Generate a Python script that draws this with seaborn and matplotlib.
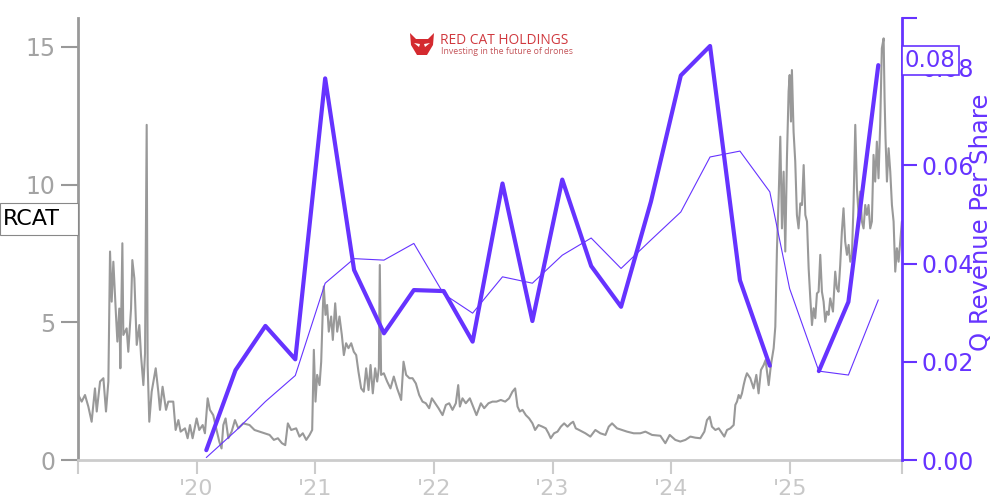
import numpy as np
import pandas as pd
import matplotlib
matplotlib.use("Agg")
import matplotlib.pyplot as plt
import matplotlib.transforms as mtransforms
from matplotlib.patches import Polygon, Rectangle
import seaborn as sns

# ---------------- data ----------------
price_year = [
    2019.003, 2019.031, 2019.059, 2019.087, 2019.115, 2019.143, 2019.158, 2019.186, 2019.214, 2019.236,
    2019.256, 2019.270, 2019.284, 2019.298, 2019.320, 2019.332, 2019.348, 2019.357, 2019.374, 2019.382,
    2019.410, 2019.424, 2019.447, 2019.458, 2019.475, 2019.495, 2019.517, 2019.531, 2019.551, 2019.565,
    2019.579, 2019.587, 2019.601, 2019.621, 2019.655, 2019.677, 2019.691, 2019.713, 2019.742, 2019.761,
    2019.803, 2019.823, 2019.846, 2019.865, 2019.902, 2019.924, 2019.944, 2019.966, 2020.000, 2020.022,
    2020.051, 2020.070, 2020.093, 2020.112, 2020.140, 2020.168, 2020.191, 2020.210, 2020.225, 2020.244,
    2020.267, 2020.295, 2020.323, 2020.351, 2020.393,
    2020.446, 2020.488, 2020.530, 2020.572, 2020.615, 2020.651, 2020.685, 2020.719, 2020.747, 2020.769,
    2020.797, 2020.839, 2020.867, 2020.895, 2020.924, 2020.952, 2020.974, 2020.988, 2021.002, 2021.016,
    2021.036, 2021.050, 2021.064, 2021.072, 2021.086, 2021.100, 2021.114, 2021.134, 2021.148, 2021.168,
    2021.185, 2021.204, 2021.224, 2021.241, 2021.260, 2021.280, 2021.303, 2021.325, 2021.345, 2021.364,
    2021.387, 2021.409, 2021.429, 2021.449, 2021.466, 2021.485, 2021.505, 2021.522, 2021.536, 2021.544,
    2021.555, 2021.578, 2021.606, 2021.634, 2021.662, 2021.690, 2021.710, 2021.724, 2021.744, 2021.766,
    2021.794,
    2021.820, 2021.848, 2021.876, 2021.904, 2021.932, 2021.960, 2021.983, 2022.011, 2022.039, 2022.073,
    2022.101, 2022.129, 2022.157, 2022.185, 2022.205, 2022.219, 2022.241, 2022.269, 2022.303, 2022.331,
    2022.359, 2022.396, 2022.424, 2022.460, 2022.494, 2022.528, 2022.564, 2022.601, 2022.634, 2022.662,
    2022.685, 2022.705, 2022.724, 2022.747, 2022.775, 2022.803, 2022.831, 2022.853, 2022.882, 2022.915,
    2022.943, 2022.966, 2022.985, 2023.013, 2023.042, 2023.070, 2023.098, 2023.126, 2023.154, 2023.174,
    2023.196, 2023.224,
    2023.277, 2023.319, 2023.361, 2023.403, 2023.446, 2023.474, 2023.502, 2023.544, 2023.586, 2023.628,
    2023.684, 2023.740, 2023.783, 2023.839, 2023.909, 2023.951, 2023.988, 2024.035, 2024.077, 2024.120,
    2024.162, 2024.204, 2024.246, 2024.280, 2024.302, 2024.325, 2024.344, 2024.373, 2024.401, 2024.429,
    2024.448, 2024.471, 2024.499, 2024.527, 2024.541, 2024.555, 2024.569, 2024.583, 2024.597, 2024.611,
    2024.625,
    2024.639, 2024.667, 2024.695, 2024.718, 2024.737, 2024.757, 2024.780, 2024.796, 2024.822, 2024.841,
    2024.864, 2024.878, 2024.892, 2024.906, 2024.920, 2024.934, 2024.948, 2024.962, 2024.976, 2024.990,
    2024.999, 2025.010, 2025.018, 2025.032, 2025.046, 2025.060, 2025.074, 2025.089, 2025.103, 2025.117,
    2025.131, 2025.145, 2025.159, 2025.173, 2025.187, 2025.201, 2025.215, 2025.229, 2025.243, 2025.257,
    2025.271, 2025.285, 2025.299, 2025.313, 2025.327, 2025.341, 2025.364, 2025.383, 2025.397, 2025.411,
    2025.425, 2025.439, 2025.453, 2025.467, 2025.482, 2025.496, 2025.510, 2025.524, 2025.538, 2025.552,
    2025.566, 2025.580, 2025.594, 2025.608, 2025.622, 2025.636, 2025.650, 2025.664, 2025.678, 2025.692,
    2025.706, 2025.720, 2025.734, 2025.748, 2025.762, 2025.776, 2025.791, 2025.799, 2025.807, 2025.819,
    2025.833, 2025.847, 2025.861, 2025.875, 2025.889, 2025.903, 2025.917, 2025.931, 2025.945,
]
price = [
    2.36, 2.12, 2.36, 1.94, 1.39, 2.60, 1.76, 2.85, 2.97, 1.76,
    2.85, 7.57, 5.75, 7.20, 5.27, 4.30, 5.50, 3.33, 7.87, 4.54,
    4.78, 3.93, 5.50, 7.26, 6.60, 4.18, 4.90, 3.81, 2.72, 3.87,
    12.17, 3.45, 1.39, 2.48, 3.33, 2.48, 1.82, 2.66, 1.82, 2.12,
    2.12, 1.09, 1.45, 1.03, 1.15, 0.79, 1.27, 0.79, 1.51, 1.09,
    1.27, 0.97, 2.24, 1.82, 1.63, 1.09, 0.67, 0.42, 1.27, 1.51,
    0.79, 1.03, 1.45, 1.15, 1.33,
    1.27, 1.09, 1.03, 0.97, 0.91, 0.73, 0.79, 0.61, 0.54, 1.33,
    1.09, 1.15, 0.85, 0.97, 0.73, 0.91, 1.09, 4.00, 2.12, 3.09,
    2.72, 3.57, 5.51, 6.30, 5.27, 5.63, 4.66, 5.21, 4.36, 5.69,
    4.66, 5.21, 4.54, 3.81, 4.24, 4.06, 4.24, 3.93, 3.81, 3.21,
    2.60, 2.48, 3.33, 2.54, 3.45, 2.42, 3.33, 2.85, 3.33, 7.08,
    3.09, 3.15, 2.85, 2.60, 3.03, 2.60, 2.36, 2.18, 3.57, 3.09,
    2.97,
    2.97, 2.78, 2.36, 2.12, 2.06, 1.88, 2.24, 2.06, 1.88, 1.63,
    2.00, 2.06, 1.82, 2.06, 2.72, 1.94, 2.24, 2.06, 2.24, 1.94,
    1.63, 2.06, 1.88, 2.06, 2.12, 2.12, 2.18, 2.12, 2.24, 2.48,
    2.60, 1.94, 1.76, 1.82, 1.63, 1.51, 1.33, 1.09, 1.27, 1.21,
    1.15, 0.97, 0.79, 0.97, 1.03, 1.21, 1.33, 1.21, 1.33, 1.39,
    1.15, 1.09,
    0.97, 0.85, 1.09, 0.97, 0.91, 1.21, 1.33, 1.15, 1.09, 1.03,
    0.97, 0.97, 1.03, 0.91, 0.88, 0.61, 0.91, 0.73, 0.67, 0.73,
    0.85, 0.81, 0.79, 1.03, 1.45, 1.57, 1.21, 1.09, 1.15, 0.97,
    0.85, 1.09, 1.15, 1.27, 2.00, 2.12, 2.36, 2.24, 2.42, 2.72,
    2.97,
    3.15, 2.97, 2.60, 3.09, 2.42, 3.27, 3.45, 3.63, 2.72, 3.45,
    4.06, 4.84, 7.69, 9.50, 11.74, 8.41, 10.47, 7.57, 10.96, 13.38,
    13.98, 12.29, 14.16, 11.92, 10.84, 8.90, 8.41, 9.32, 9.26, 10.71,
    8.90, 8.66, 6.96, 5.87, 4.90, 5.51, 5.15, 6.05, 6.11, 7.45,
    6.11, 5.75, 5.02, 5.39, 5.27, 5.87, 5.39, 6.84, 6.23, 6.11,
    7.08, 8.29, 9.14, 7.93, 7.45, 7.81, 7.20, 7.45, 9.38, 12.17,
    9.87, 8.90, 9.75, 8.66, 8.41, 9.26, 8.90, 9.26, 8.41, 8.66,
    11.08, 10.11, 11.56, 10.23, 12.17, 14.95, 15.31, 13.14, 11.68, 10.11,
    11.32, 10.47, 9.26, 8.66, 6.84, 7.69, 7.20, 7.93, 8.66,
]

q_dates = [
    "2020-01-31", "2020-04-30", "2020-07-31", "2020-10-31",
    "2021-01-31", "2021-04-30", "2021-07-31", "2021-10-31",
    "2022-01-31", "2022-04-30", "2022-07-31", "2022-10-31",
    "2023-01-31", "2023-04-30", "2023-07-31", "2023-10-31",
    "2024-01-31", "2024-04-30", "2024-07-31", "2024-10-31",
    "2024-12-31", "2025-03-31", "2025-06-30", "2025-09-30",
]
q_rev_per_share = [
    0.0020, 0.0183, 0.0273, 0.0205,
    0.0777, 0.0387, 0.0258, 0.0346,
    0.0344, 0.0241, 0.0563, 0.0283,
    0.0571, 0.0395, 0.0312, 0.0526,
    0.0783, 0.0843, 0.0366, 0.0192,
    np.nan, 0.0181, 0.0322, 0.0804,
]
q_rev_smooth = [
    0.0005, 0.0059, 0.0119, 0.0172,
    0.0360, 0.0410, 0.0407, 0.0441,
    0.0338, 0.0299, 0.0373, 0.0360,
    0.0417, 0.0452, 0.0390, 0.0448,
    0.0505, 0.0617, 0.0629, 0.0546,
    0.0349, 0.0181, 0.0173, 0.0326,
]

year_ticks = [2019, 2020, 2021, 2022, 2023, 2024, 2025]
year_labels = ["", "'20", "'21", "'22", "'23", "'24", "'25"]
left_ticks = [0, 5, 10, 15]
right_ticks = [0.00, 0.02, 0.04, 0.06, 0.08]

ticker = "RCAT"
ticker_value = 8.75
last_value_label = "0.08"
last_value_pos = 0.0813

# ---------------- styling ----------------
PURPLE = "#6633ff"
GRAY = "#999999"
LIGHT = "#cccccc"

sns.set_theme(style="white")
plt.rcParams["font.family"] = ["DejaVu Sans"]

def to_dt(years):
    y = np.asarray(years, dtype=float)
    return pd.Timestamp("2019-01-01") + pd.to_timedelta((y - 2019.0) * 365.25, unit="D")

df_price = pd.DataFrame({"date": to_dt(price_year), "price": price})
df_q = pd.DataFrame({"date": pd.to_datetime(q_dates),
                     "rev": q_rev_per_share, "smooth": q_rev_smooth})
df_q["seg"] = df_q["rev"].isna().cumsum()
df_thick = df_q.dropna(subset=["rev"])

fig = plt.figure(figsize=(10, 5), dpi=100)
ax = fig.add_axes([0.078, 0.08, 0.824, 0.884])

sns.lineplot(data=df_price, x="date", y="price", ax=ax, color=GRAY, lw=1.5)
ax.set_ylim(0, 16.05)

ax2 = ax.twinx()
sns.lineplot(data=df_q, x="date", y="smooth", ax=ax2, color=PURPLE, lw=0.8)
sns.lineplot(data=df_thick, x="date", y="rev", units="seg", estimator=None,
             ax=ax2, color=PURPLE, lw=3)
ax2.set_ylim(0, 0.0900)

xmin = pd.Timestamp("2019-01-01")
xmax = pd.Timestamp("2025-12-12")
ax.set_xlim(xmin, xmax)
ax2.set_xlim(xmin, xmax)

ax.set_xticks([pd.Timestamp(f"{y}-01-01") for y in year_ticks])
ax.set_xticklabels(year_labels)
ax.set_xticks([xmax], minor=True)
ax.set_yticks(left_ticks)
ax.set_yticklabels([str(t) for t in left_ticks])
ax2.set_yticks(right_ticks)
ax2.set_yticklabels([f"{t:.2f}" for t in right_ticks])
ax2.set_yticks([0.09], minor=True)

ax.set_xlabel("")
ax.set_ylabel("")
ax2.set_xlabel("")
ax2.set_ylabel("Q Revenue Per Share", color=PURPLE, fontsize=17.5)
ax2.yaxis.set_label_coords(1.096, 0.538)
ax2.yaxis.label.set_va("center")
ax2.yaxis.label.set_ha("center")

ax.tick_params(axis="y", left=True, length=12, width=1.5, color=GRAY,
               labelcolor="#a3a3a3", labelsize=17, pad=4)
ax.tick_params(axis="x", which="both", bottom=True, length=10, width=1.5, color=LIGHT,
               labelcolor="#c8c8c8", labelsize=16, pad=4)
ax2.tick_params(axis="y", which="both", right=True, length=11, width=1.5, color=PURPLE,
                labelcolor=PURPLE, labelsize=17, pad=3)

for s in ["top", "right"]:
    ax.spines[s].set_visible(False)
ax.spines["left"].set_color(GRAY)
ax.spines["left"].set_linewidth(2)
ax.spines["bottom"].set_color(LIGHT)
ax.spines["bottom"].set_linewidth(2)
for s in ["top", "left", "bottom"]:
    ax2.spines[s].set_visible(False)
ax2.spines["right"].set_color(PURPLE)
ax2.spines["right"].set_linewidth(2)
ax.grid(False)
ax2.grid(False)

# ticker label box on the left axis
trans_l = mtransforms.blended_transform_factory(ax.transAxes, ax.transData)
ax.add_patch(Rectangle((-0.0947, 8.17), 0.0947, 1.165, transform=trans_l,
                       fc="white", ec="#888888", lw=0.8, clip_on=False, zorder=9))
ax.text(-0.0947 + 3 / 824, ticker_value, ticker, transform=trans_l, ha="left", va="center",
        fontsize=16, color="black", zorder=10, clip_on=False)

# last value box on the right axis
trans_r = mtransforms.blended_transform_factory(ax2.transAxes, ax2.transData)
ax2.text(1.0036, last_value_pos, last_value_label, transform=trans_r, ha="left", va="center",
         fontsize=16.5, color=PURPLE, zorder=10, clip_on=False,
         bbox=dict(boxstyle="square,pad=0.14", fc="white", ec=PURPLE, lw=1.2))

# logo
W, H = 1000, 500
cat = [(410, 33), (416, 39), (428, 39), (434, 33), (433, 45), (427, 55), (417, 55), (411, 45)]
fig.patches.append(Polygon([(x / W, 1 - y / H) for x, y in cat], closed=True,
                           transform=fig.transFigure, fc="#d42a2f", ec="none"))
for eye in ([(414, 43), (420, 44), (419, 47)], [(430, 43), (424, 44), (425, 47)]):
    fig.patches.append(Polygon([(x / W, 1 - y / H) for x, y in eye], closed=True,
                               transform=fig.transFigure, fc="white", ec="none"))
fig.text(440 / W, 1 - 40 / H, "RED CAT HOLDINGS", fontsize=9.9, color="#d0393f",
         ha="left", va="center", family=["Open Sans", "DejaVu Sans"])
fig.text(441 / W, 1 - 51 / H, "Investing in the future of drones", fontsize=6.3,
         color="#c4555a", ha="left", va="center", family=["Open Sans", "DejaVu Sans"])

fig.savefig("out.png", dpi=100)
